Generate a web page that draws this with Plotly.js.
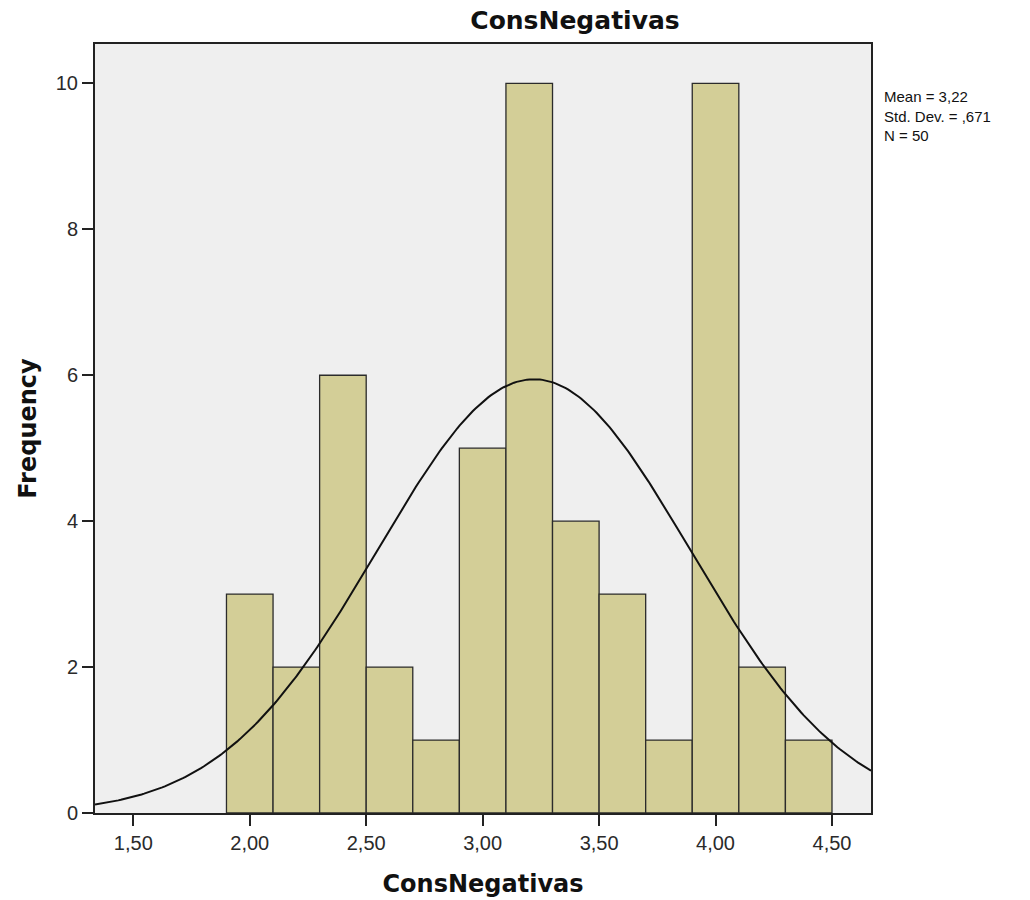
<!DOCTYPE html>
<html>
<head>
<meta charset="utf-8">
<script src="https://cdn.plot.ly/plotly-3.0.1.min.js"></script>
<style>html,body{margin:0;padding:0;background:#fff;}#chart{width:1030px;height:900px;}</style>
</head>
<body>
<div id="chart"></div>
<script>
// Histogram bins (lower edges) and frequencies
var binStarts = [1.9, 2.1, 2.3, 2.5, 2.7, 2.9, 3.1, 3.3, 3.5, 3.7, 3.9, 4.1, 4.3];
var frequencies = [3, 2, 6, 2, 1, 5, 10, 4, 3, 1, 10, 2, 1];
var binWidth = 0.2;
var stats = {mean: 3.22, sd: 0.671, n: 50};
var xTickVals = [1.5, 2.0, 2.5, 3.0, 3.5, 4.0, 4.5];
var xTickText = ["1,50", "2,00", "2,50", "3,00", "3,50", "4,00", "4,50"];
var yTickVals = [0, 2, 4, 6, 8, 10];

var xRange = [1.3355, 4.6675];
var centers = binStarts.map(function(b){ return b + binWidth/2; });

// Normal curve from stated Mean / Std. Dev. / N
var cx = [], cy = [];
var steps = 300;
for (var i = 0; i <= steps; i++) {
  var x = xRange[0] + (xRange[1]-xRange[0]) * i / steps;
  var z = (x - stats.mean) / stats.sd;
  cx.push(x);
  cy.push(stats.n * binWidth * Math.exp(-0.5*z*z) / (stats.sd * Math.sqrt(2*Math.PI)));
}

var traces = [
  {type: 'bar', x: centers, y: frequencies, width: binWidth,
   marker: {color: '#D3CE97', line: {color: '#2b2b2b', width: 1.3}},
   hoverinfo: 'skip', showlegend: false},
  {type: 'scatter', mode: 'lines', x: cx, y: cy,
   line: {color: '#111111', width: 2}, hoverinfo: 'skip', showlegend: false}
];

var sans = '"Liberation Sans", Arial, sans-serif';
var wide = '"DejaVu Sans", Verdana, sans-serif';
var layout = {
  width: 1030, height: 900,
  margin: {l: 95, r: 159, t: 44, b: 87},
  paper_bgcolor: '#ffffff',
  plot_bgcolor: '#EFEFEF',
  font: {family: sans, size: 20, color: '#222'},
  bargap: 0,
  title: {text: '<b>ConsNegativas</b>', font: {family: wide, size: 25, color: '#111'},
          x: 575/1030, xref: 'container', xanchor: 'center', y: 1 - 20/900, yref: 'container', yanchor: 'middle'},
  xaxis: {range: xRange, tickvals: xTickVals, ticktext: xTickText,
          ticks: 'outside', ticklen: 11, tickwidth: 2, tickcolor: '#222',
          showgrid: false, zeroline: false, showline: true, linecolor: '#222', linewidth: 2, mirror: true,
          tickfont: {family: sans, size: 20, color: '#2a2a2a'},
          title: {text: '<b>ConsNegativas</b>', font: {family: wide, size: 24, color: '#111'}, standoff: 22}},
  yaxis: {range: [0, 10.54], tickvals: yTickVals,
          ticks: 'outside', ticklen: 11, tickwidth: 2, tickcolor: '#222',
          showgrid: false, zeroline: false, showline: true, linecolor: '#222', linewidth: 2, mirror: true,
          tickfont: {family: sans, size: 20, color: '#2a2a2a'},
          title: {text: '<b>Frequency</b>', font: {family: wide, size: 24, color: '#111'}, standoff: 12}},
  annotations: [{
    xref: 'paper', yref: 'paper', x: 1.014, y: 0.945, xanchor: 'left', yanchor: 'top',
    align: 'left', showarrow: false,
    text: 'Mean = 3,22<br>Std. Dev. = ,671<br>N = 50',
    font: {family: sans, size: 15, color: '#111'}
  }]
};

Plotly.newPlot('chart', traces, layout, {displayModeBar: false, staticPlot: true});
</script>
</body>
</html>
